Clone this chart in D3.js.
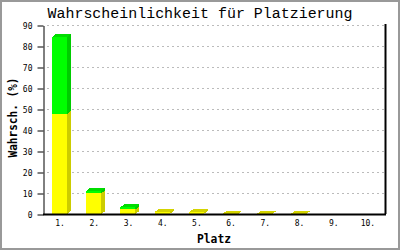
<!DOCTYPE html>
<html>
<head>
<meta charset="utf-8">
<script src="https://cdn.jsdelivr.net/npm/d3@7"></script>
<style>
  body { margin: 0; background: #fff; }
  svg { display: block; }
</style>
</head>
<body>
<svg id="chart" width="400" height="250"></svg>
<script>
// chart data
var places = ["1.", "2.", "3.", "4.", "5.", "6.", "7.", "8.", "9.", "10."];
var yellowVals = [47.6, 9.8, 2.2, 0.9, 0.8, 0.2, 0.2, 0.2, 0, 0];
var greenVals = [36.7, 1.2, 1.0, 0, 0, 0, 0, 0, 0, 0];
var yTicks = [0, 10, 20, 30, 40, 50, 60, 70, 80, 90];

var svg = d3.select("#chart"),
    plot = {left: 43, right: 385, top: 25, bottom: 214},
    depth = 4, rise = 3, frontW = 15, frontOff = 9;

var x = d3.scaleBand().domain(places).range([plot.left, plot.right]);
var y = d3.scaleLinear().domain([0, 90]).range([plot.bottom, plot.top]);

/** grey frame round the whole picture */
svg.append("rect")
    .attr("x", 1).attr("y", 1).attr("width", 398).attr("height", 248)
    .attr("fill", "#fff").attr("stroke", "#999").attr("stroke-width", 2);

/** dashed grid lines */
svg.append("g").selectAll("line")
  .data(yTicks.filter(function(d) { return d > 0; }))
  .enter().append("line")
    .attr("x1", plot.left + 4).attr("x2", plot.right)
    .attr("y1", function(d) { return y(d) + 0.5; })
    .attr("y2", function(d) { return y(d) + 0.5; })
    .style("stroke", "#bbb")
    .style("stroke-dasharray", "2,3");

/** one 3D box for a stacked segment */
function box(g, x0, y0, y1, front, side, top, showTop) {
  var w = frontW;
  g.append("polygon")
    .attr("points", [[x0 + w, y1], [x0 + w + depth, y1 - rise], [x0 + w + depth, y0 - rise], [x0 + w, y0]].join(" "))
    .attr("fill", side);
  if (showTop) {
    g.append("polygon")
      .attr("points", [[x0, y0], [x0 + depth, y0 - rise], [x0 + w + depth, y0 - rise], [x0 + w, y0]].join(" "))
      .attr("fill", top);
  }
  g.append("rect")
    .attr("x", x0).attr("y", y0)
    .attr("width", w).attr("height", Math.max(0, y1 - y0))
    .attr("fill", front);
}

var bars = svg.append("g").attr("shape-rendering", "crispEdges");
places.forEach(function(p, i) {
  var yv = yellowVals[i], gv = greenVals[i];
  if (yv + gv <= 0) return;
  var x0 = x(p) + frontOff;
  if (yv > 0) {
    box(bars, x0, y(yv), y(0), "#ffff00", "#cccc00", "#d4d400", gv <= 0);
  }
  if (gv > 0) {
    box(bars, x0, y(yv + gv), y(yv), "#00ff00", "#00cc00", "#00dd00", true);
  }
});

/** axes */
var yAxis = svg.append("g")
    .attr("transform", "translate(" + (plot.left + 0.5) + ",0.5)")
    .call(d3.axisLeft(y).tickValues(yTicks).tickSize(6).tickSizeOuter(0).tickPadding(5));
yAxis.select(".domain").attr("stroke", "#000");
yAxis.selectAll("text")
    .style("font-family", "'DejaVu Sans Mono', monospace")
    .style("font-size", "8px")
    .attr("fill", "#000");

var xAxis = svg.append("g")
    .attr("transform", "translate(0," + plot.bottom + ")")
    .call(d3.axisBottom(x).tickSize(0).tickPadding(6));
xAxis.select(".domain").remove();
xAxis.selectAll("text")
    .style("font-family", "'DejaVu Sans Mono', monospace")
    .style("font-size", "8px")
    .attr("fill", "#000");

svg.append("line")
    .attr("x1", plot.left).attr("x2", plot.right + 1)
    .attr("y1", plot.bottom + 0.5).attr("y2", plot.bottom + 0.5)
    .style("stroke", "#000").style("stroke-width", 2);
svg.append("line")
    .attr("x1", plot.right + 0.5).attr("x2", plot.right + 0.5)
    .attr("y1", plot.top - 1).attr("y2", plot.bottom)
    .style("stroke", "#000").style("stroke-width", 2);

/** title and axis labels */
svg.append("text")
    .attr("x", 200).attr("y", 18)
    .attr("text-anchor", "middle")
    .attr("textLength", 305).attr("lengthAdjust", "spacingAndGlyphs")
    .style("font-family", "'Liberation Mono', monospace")
    .style("font-size", "14px")
    .text("Wahrscheinlichkeit für Platzierung");

svg.append("text")
    .attr("x", (plot.left + plot.right) / 2).attr("y", 243)
    .attr("text-anchor", "middle")
    .attr("textLength", 34).attr("lengthAdjust", "spacingAndGlyphs")
    .style("font-family", "'DejaVu Sans Mono', monospace")
    .style("font-weight", "bold")
    .style("font-size", "13px")
    .text("Platz");

svg.append("text")
    .attr("transform", "translate(17," + ((plot.top + plot.bottom) / 2 - 2) + ") rotate(-90)")
    .attr("text-anchor", "middle")
    .attr("textLength", 80).attr("lengthAdjust", "spacingAndGlyphs")
    .style("font-family", "'DejaVu Sans Mono', monospace")
    .style("font-weight", "bold")
    .style("font-size", "12px")
    .text("Wahrsch. (%)");
</script>
</body>
</html>
